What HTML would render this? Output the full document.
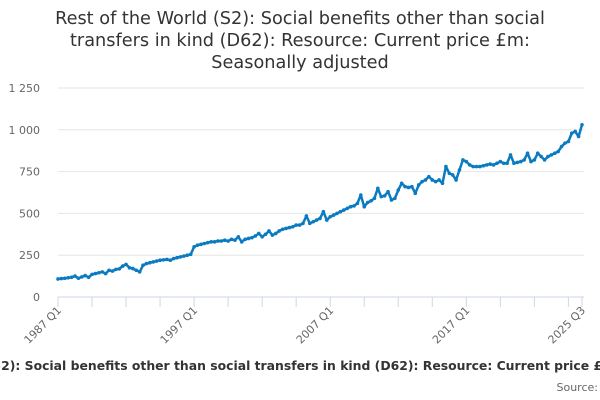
<!DOCTYPE html>
<html><head><meta charset="utf-8"><style>
html,body{margin:0;padding:0;background:#fff;}
svg{display:block;font-family:"DejaVu Sans","Liberation Sans",sans-serif;}
</style></head><body>
<svg id="chart" width="600" height="400">
<g fill="#333" font-size="17.7" text-anchor="middle">
<text x="300" y="24">Rest of the World (S2): Social benefits other than social</text>
<text x="300" y="46">transfers in kind (D62): Resource: Current price £m:</text>
<text x="300" y="68">Seasonally adjusted</text>
</g>
<g id="grid"></g>
<g id="yticks" font-size="11" fill="#666" text-anchor="end"></g>
<g id="xaxis"></g>
<path id="line" fill="none" stroke="#0b7bc1" stroke-width="2.5" stroke-linejoin="round"/>
<g id="dots" fill="#0b7bc1"></g>
<text x="-140" y="370" font-size="12.4" font-weight="bold" fill="#333">Rest of the World (S2): Social benefits other than social transfers in kind (D62): Resource: Current price £m: Seasonally adjusted</text>
<text x="598" y="391" font-size="11" fill="#666" text-anchor="end">Source:</text>
</svg>
<script>
const startYear = 1987;
const yTicks = [0, 250, 500, 750, 1000, 1250];
const yTickLabels = ["0", "250", "500", "750", "1 000", "1 250"];
const xLabels = ["1987 Q1", "1997 Q1", "2007 Q1", "2017 Q1", "2025 Q3"];
const xLabelIdx = [0, 40, 80, 120, 154];
const values = [
108,110,112,115, 118,125,112,120, 128,118,135,140, 145,150,140,160,
155,165,168,185, 195,175,170,160, 150,190,200,205, 210,215,220,222,
225,220,230,235, 240,245,250,255, 300,310,315,320, 325,330,330,335,
335,340,335,345, 340,360,330,345, 350,355,365,380, 360,375,395,370,
380,395,405,410, 415,420,430,430, 440,485,440,450, 460,470,510,460,
480,490,500,510, 520,530,540,545, 560,610,540,565, 575,590,650,600,
605,630,580,590, 640,680,660,655, 660,620,670,690, 700,720,700,690,
700,680,780,740, 730,700,760,820, 810,790,780,780, 780,785,790,795,
790,800,810,800, 800,850,800,805, 810,820,860,810, 820,860,840,820,
840,850,860,870, 900,920,930,980, 990,960,1030
];
const NS="http://www.w3.org/2000/svg";
const x0=58,x1=582,y0=297,y1=88;
const xs=i=>x0+(x1-x0)*i/(values.length-1);
const ys=v=>y0-(y0-y1)*v/1250;
const grid=document.getElementById('grid'),yt=document.getElementById('yticks');
yTicks.forEach((t,k)=>{
  const l=document.createElementNS(NS,'line');
  
  
  l.setAttribute('x1',x0);l.setAttribute('x2',x1+2);l.setAttribute('y1',ys(t));l.setAttribute('y2',ys(t));
  l.setAttribute('stroke',t===0?'#ccd6eb':'#e6e6e6');l.setAttribute('stroke-width','1');
  grid.appendChild(l);
  const tx=document.createElementNS(NS,'text');
  
  
  tx.setAttribute('x',40);tx.setAttribute('y',ys(t)+4);tx.textContent=yTickLabels[k];
  yt.appendChild(tx);
});
const xa=document.getElementById('xaxis');
for(let i=0;i<values.length;i+=10){
  const l=document.createElementNS(NS,'line');
  
  
  l.setAttribute('x1',xs(i));l.setAttribute('x2',xs(i));l.setAttribute('y1',y0);l.setAttribute('y2',y0+10);
  l.setAttribute('stroke','#ccd6eb');xa.appendChild(l);
}
{const l=document.createElementNS(NS,'line');


l.setAttribute('x1',xs(154));l.setAttribute('x2',xs(154));l.setAttribute('y1',y0);l.setAttribute('y2',y0+10);
l.setAttribute('stroke','#ccd6eb');xa.appendChild(l);}
xLabels.forEach((s,k)=>{
  const tx=document.createElementNS(NS,'text');
  
  
  const x=xs(xLabelIdx[k])+4,y=y0+14;
  tx.setAttribute('x',x);tx.setAttribute('y',y);
  tx.setAttribute('text-anchor','end');tx.setAttribute('font-size','11');tx.setAttribute('fill','#666');
  tx.setAttribute('transform','rotate(-45 '+x+' '+y+')');
  tx.textContent=s;xa.appendChild(tx);
});
let d='';
values.forEach((v,i)=>{d+=(i?'L':'M')+xs(i).toFixed(1)+','+ys(v).toFixed(1);});
document.getElementById('line').setAttribute('d',d);
const dots=document.getElementById('dots');
values.forEach((v,i)=>{
  const c=document.createElementNS(NS,'circle');
  
  
  c.setAttribute('cx',xs(i));c.setAttribute('cy',ys(v));c.setAttribute('r','1.8');
  dots.appendChild(c);
});
</script>
</body></html>
